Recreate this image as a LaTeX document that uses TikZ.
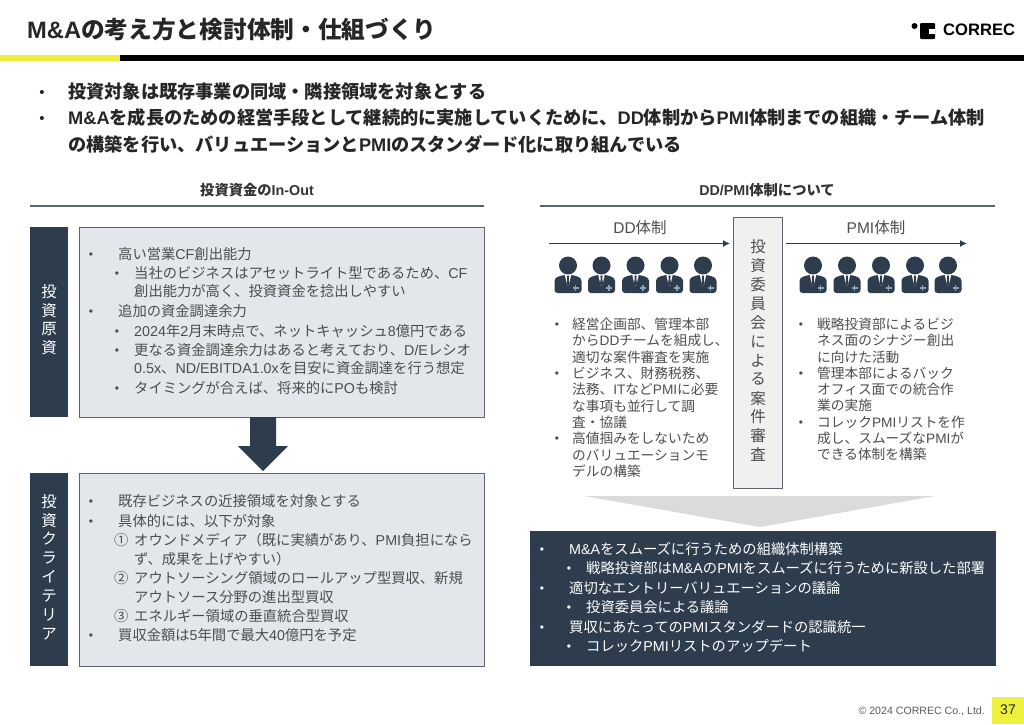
\documentclass[tikz,border=0pt]{standalone}
\usepackage{fontspec}
\usetikzlibrary{arrows.meta}
\setmainfont{Noto Sans CJK JP}
\newfontfamily\lat{Liberation Sans}
\newcommand\E[1]{{\lat #1}}
\definecolor{navy}{HTML}{2E3D4D}
\definecolor{boxfill}{HTML}{E3E6EB}
\definecolor{boxline}{HTML}{5A6570}
\definecolor{txt}{HTML}{4D4D4D}
\definecolor{yel}{HTML}{EEF03E}
\definecolor{plusc}{HTML}{8FA3B3}
\newcounter{tx}
\newcommand\fs[1]{\fontsize{#1}{#1}\selectfont}
\tikzset{
  tline/.style={anchor=west,inner sep=0pt},
  big/.style={tline,font=\bfseries\fs{18.2},text=black!85,text height=16pt,text depth=2.2pt},
  mid/.style={tline,font=\fs{14.3},text=txt,text height=12.6pt,text depth=1.7pt},
  rt/.style={tline,font=\fs{13.7},text=txt,text height=12.1pt,text depth=1.6pt},
  wh/.style={tline,font=\fs{14.3},text=white,text height=12.6pt,text depth=1.7pt},
  head/.style={anchor=center,inner sep=0pt,font=\bfseries\fs{14.3},text=black!80,text height=12.6pt,text depth=1.7pt},
  vtext/.style={anchor=center,inner sep=0pt,font=\fs{15.5}},
  rule/.style={line width=1.5pt,draw=boxline},
  panel/.style={fill=boxfill,draw=boxline,line width=.9pt},
  tab/.style={fill=navy},
  person/.pic={
    \fill[navy] (0,0) circle (9);
    \fill[navy,rounded corners=3pt] (-13.5,27.5) -- (-13.5,12.5) -- (-5,9.5) -- (5,9.5) -- (13.5,12.5) -- (13.5,27.5) -- cycle;
    \fill[white] (-3.2,9.4) -- (3.2,9.4) -- (0.8,20) -- (-0.8,20) -- cycle;
    \fill[navy] (-1.2,10) -- (1.2,10) -- (0.8,13) -- (1.5,18.5) -- (0,21) -- (-1.5,18.5) -- (-0.8,13) -- cycle;
    \draw[line width=1.4pt,draw=plusc] (4.5,22.5) -- (10.5,22.5) (7.5,19.5) -- (7.5,25.5);
  }
}
\newcommand\tln[4]{\stepcounter{tx}\node[#1] (t\arabic{tx}) at (#2,#3) {#4};}
\newcommand\bll[4]{\stepcounter{tx}\node[#1,anchor=center,yshift=-1.5pt,font=\lat\fs{#4}] (t\arabic{tx}) at (#2,#3) {•};}
\begin{document}
\begin{tikzpicture}[x=1pt,y=-1pt]
\useasboundingbox (0,0) rectangle (1024,724);
% header
\tln{tline,font=\bfseries\fs{23.7},text=black!85,text height=20.9pt,text depth=2.8pt}{27}{29}{\E{M\&A}の考え方と検討体制・仕組づくり}
\fill[yel] (0,55) rectangle (120,61);
\fill[black] (120,55) rectangle (1024,61);
\fill[black] (914.5,26) circle (3);
\fill[black,rounded corners=1pt] (920,23) rectangle (935,39);
\fill[white] (929,28.5) rectangle (935,33.5);
\node[tline,font=\lat\bfseries\fs{16.6},text=black] (logo) at (943,30) {CORREC};
% lead
\bll{text=black!85}{42}{92}{15}
\tln{big}{68}{92}{投資対象は既存事業の同域・隣接領域を対象とする}
\bll{text=black!85}{42}{118}{15}
\tln{big}{68}{118}{\E{M\&A}を成長のための経営手段として継続的に実施していくために、\E{DD}体制から\E{PMI}体制までの組織・チーム体制}
\tln{big}{68}{145}{の構築を行い、バリュエーションと\E{PMI}のスタンダード化に取り組んでいる}
% left column
\node[head] (hl) at (257,190.5) {投資資金の\E{In-Out}};
\draw[rule] (30,206) -- (484,206);
\fill[tab] (30,227) rectangle (68,417);
\fill[tab] (30,473) rectangle (68,666);
\draw[panel] (79,227) rectangle (484,417);
\draw[panel] (79,473) rectangle (484,666);
\foreach \c/\y in {投/292,資/310.5,原/329,資/348}{\node[vtext,text=white] at (49,\y) {\c};}
\foreach \c/\y in {投/502,資/521,ク/539,ラ/558,イ/577,テ/596,リ/615,ア/634}{\node[vtext,text=white] at (49,\y) {\c};}
\fill[navy] (250,417) -- (276,417) -- (276,446) -- (288,446) -- (263,471) -- (238,446) -- (250,446) -- cycle;
\bll{text=txt}{91}{254}{12}
\tln{mid}{118}{254}{高い営業\E{CF}創出能力}
\bll{text=txt}{117}{273}{12}
\tln{mid}{134}{273}{当社のビジネスはアセットライト型であるため、\E{CF}}
\tln{mid}{134}{291.5}{創出能力が高く、投資資金を捻出しやすい}
\bll{text=txt}{91}{311}{12}
\tln{mid}{118}{311}{追加の資金調達余力}
\bll{text=txt}{117}{331}{12}
\tln{mid}{134}{331}{\E{2024}年\E{2}月末時点で、ネットキャッシュ\E{8}億円である}
\bll{text=txt}{117}{350}{12}
\tln{mid}{134}{350}{更なる資金調達余力はあると考えており、\E{D/E}レシオ}
\tln{mid}{134}{368.5}{\E{0.5x}、\E{ND/EBITDA1.0x}を目安に資金調達を行う想定}
\bll{text=txt}{117}{388}{12}
\tln{mid}{134}{388}{タイミングが合えば、将来的に\E{PO}も検討}
\bll{text=txt}{91}{501}{12}
\tln{mid}{118}{501}{既存ビジネスの近接領域を対象とする}
\bll{text=txt}{91}{521}{12}
\tln{mid}{118}{521}{具体的には、以下が対象}
\tln{mid}{114}{540}{①}
\tln{mid}{134}{540}{オウンドメディア（既に実績があり、\E{PMI}負担になら}
\tln{mid}{134}{559}{ず、成果を上げやすい）}
\tln{mid}{114}{578}{②}
\tln{mid}{134}{578}{アウトソーシング領域のロールアップ型買収、新規}
\tln{mid}{134}{597}{アウトソース分野の進出型買収}
\tln{mid}{114}{616}{③}
\tln{mid}{134}{616}{エネルギー領域の垂直統合型買収}
\bll{text=txt}{91}{635}{12}
\tln{mid}{118}{635}{買収金額は\E{5}年間で最大\E{40}億円を予定}
% right column
\node[head] (hr) at (767,190.5) {\E{DD/PMI}体制について};
\draw[rule] (540,206) -- (995,206);
\node[anchor=center,inner sep=0pt,font=\fs{15.5},text=txt] (dd) at (640,228) {\E{DD}体制};
\node[anchor=center,inner sep=0pt,font=\fs{15.5},text=txt] (pmi) at (876,228) {\E{PMI}体制};
\coordinate (dda) at (549,243.5);
\coordinate (ddb) at (730,243.5);
\coordinate (pma) at (786,243.5);
\coordinate (pmb) at (967,243.5);
\draw[line width=1.2pt,draw=navy,-{Latex[length=7pt,width=7pt]}] (dda) -- (ddb);
\draw[line width=1.2pt,draw=navy,-{Latex[length=7pt,width=7pt]}] (pma) -- (pmb);
\draw[fill=black!6,draw=boxline,line width=.9pt] (733,217) rectangle (782,488);
\foreach \c/\i in {投/0,資/1,委/2,員/3,会/4,に/5,よ/6,る/7,案/8,件/9,審/10,査/11}{\node[vtext,text=txt] at (758,247+18.9*\i) {\c};}
\foreach \x in {568,601.5,635.5,669.5,703,813,847,881,915,948}{\pic at (\x,265.5) {person};}
\bll{text=txt}{557}{324}{12}
\tln{rt}{572}{324}{経営企画部、管理本部}
\tln{rt}{572}{340.5}{から\E{DD}チームを組成し、}
\tln{rt}{572}{357}{適切な案件審査を実施}
\bll{text=txt}{557}{373}{12}
\tln{rt}{572}{373}{ビジネス、財務税務、}
\tln{rt}{572}{389.5}{法務、\E{IT}など\E{PMI}に必要}
\tln{rt}{572}{406}{な事項も並行して調}
\tln{rt}{572}{422}{査・協議}
\bll{text=txt}{557}{438.5}{12}
\tln{rt}{572}{438.5}{高値掴みをしないため}
\tln{rt}{572}{455}{のバリュエーションモ}
\tln{rt}{572}{471.5}{デルの構築}
\bll{text=txt}{801}{324}{12}
\tln{rt}{817}{324}{戦略投資部によるビジ}
\tln{rt}{817}{340.5}{ネス面のシナジー創出}
\tln{rt}{817}{357}{に向けた活動}
\bll{text=txt}{801}{373}{12}
\tln{rt}{817}{373}{管理本部によるバック}
\tln{rt}{817}{389.5}{オフィス面での統合作}
\tln{rt}{817}{405.5}{業の実施}
\bll{text=txt}{801}{422}{12}
\tln{rt}{817}{422}{コレック\E{PMI}リストを作}
\tln{rt}{817}{438}{成し、スムーズな\E{PMI}が}
\tln{rt}{817}{454.5}{できる体制を構築}
\fill[black!14] (584,496) -- (935,496) -- (760,527) -- cycle;
\fill[navy] (530,531) rectangle (996,666);
\bll{text=white}{542}{549}{12}
\tln{wh}{569}{549}{\E{M\&A}をスムーズに行うための組織体制構築}
\bll{text=white}{569}{568}{12}
\tln{wh}{586}{568}{戦略投資部は\E{M\&A}の\E{PMI}をスムーズに行うために新設した部署}
\bll{text=white}{542}{588}{12}
\tln{wh}{569}{588}{適切なエントリーバリュエーションの議論}
\bll{text=white}{569}{607}{12}
\tln{wh}{586}{607}{投資委員会による議論}
\bll{text=white}{542}{627}{12}
\tln{wh}{569}{627}{買収にあたっての\E{PMI}スタンダードの認識統一}
\bll{text=white}{569}{646}{12}
\tln{wh}{586}{646}{コレック\E{PMI}リストのアップデート}
% footer
\node[anchor=east,inner sep=0pt,font=\lat\fs{10.6},text=black!65] (cr) at (985,711) {© 2024 CORREC Co., Ltd.};
\fill[yel] (992,697) rectangle (1024,724);
\node[anchor=center,inner sep=0pt,font=\lat\fs{14},text=black!85] (pg) at (1008,710) {37};
\end{tikzpicture}
\end{document}
